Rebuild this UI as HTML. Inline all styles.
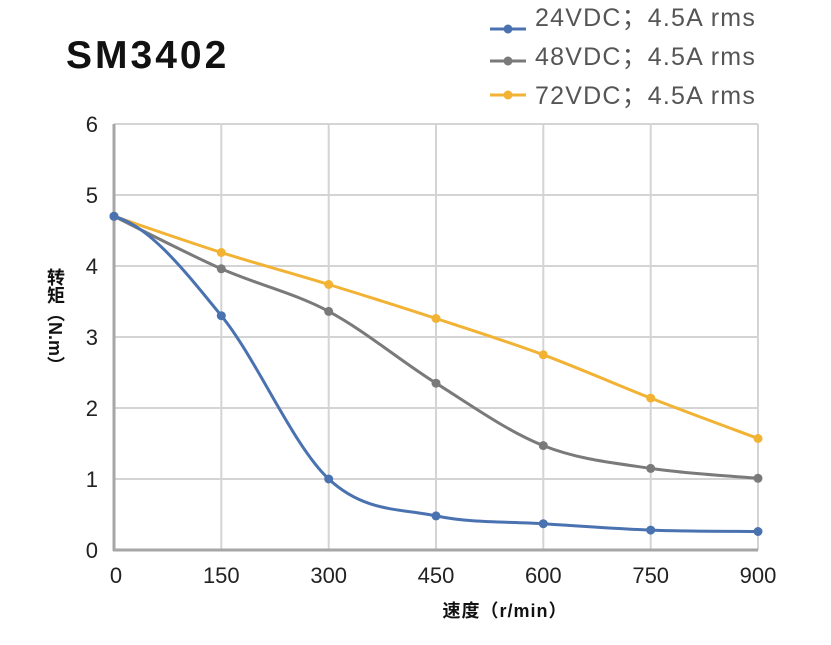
<!DOCTYPE html>
<html><head><meta charset="utf-8"><style>
body{margin:0;background:#fff;width:831px;height:640px;overflow:hidden;font-family:"Liberation Sans","Noto Sans CJK SC",sans-serif}
</style></head><body>
<svg id="s" width="831" height="640" xmlns="http://www.w3.org/2000/svg" font-family="Liberation Sans, Noto Sans CJK SC, sans-serif">
<g stroke="#d4d4d4" stroke-width="2">
<line x1="114" y1="124" x2="758" y2="124"/><line x1="114" y1="195" x2="758" y2="195"/>
<line x1="114" y1="266" x2="758" y2="266"/><line x1="114" y1="337" x2="758" y2="337"/>
<line x1="114" y1="408" x2="758" y2="408"/><line x1="114" y1="479" x2="758" y2="479"/>
<line x1="221.3" y1="124" x2="221.3" y2="550"/><line x1="328.7" y1="124" x2="328.7" y2="550"/>
<line x1="436" y1="124" x2="436" y2="550"/><line x1="543.3" y1="124" x2="543.3" y2="550"/>
<line x1="650.7" y1="124" x2="650.7" y2="550"/><line x1="758" y1="124" x2="758" y2="550"/>
</g>
<line x1="114" y1="124" x2="114" y2="551" stroke="#a6a6a6" stroke-width="3"/>
<line x1="113" y1="550" x2="758" y2="550" stroke="#a6a6a6" stroke-width="3"/>
<g font-size="22" fill="#222" text-anchor="end">
<text x="98" y="132">6</text><text x="98" y="203">5</text><text x="98" y="274">4</text>
<text x="98" y="345">3</text><text x="98" y="416">2</text><text x="98" y="487">1</text><text x="98" y="558">0</text>
</g>
<g font-size="22" fill="#222" text-anchor="middle">
<text x="116" y="583">0</text><text x="221.3" y="583">150</text><text x="328.7" y="583">300</text>
<text x="436" y="583">450</text><text x="543.3" y="583">600</text><text x="650.7" y="583">750</text><text x="758" y="583">900</text>
</g>
<text x="505" y="617" font-size="18" font-weight="bold" text-anchor="middle" fill="#111" letter-spacing="1">速度（r/min）</text>
<text x="66" y="68" font-size="39" font-weight="bold" fill="#111" letter-spacing="3">SM3402</text>
<g id="lines"></g>
<g font-size="25" fill="#555" letter-spacing="1.2">
<line x1="490" y1="29" x2="526" y2="29" stroke="#4a72b0" stroke-width="3"/><circle cx="508" cy="29" r="4.5" fill="#4a72b0"/>
<text x="535" y="26">24VDC；4.5A rms</text>
<line x1="490" y1="61" x2="526" y2="61" stroke="#7a7a7a" stroke-width="3"/><circle cx="508" cy="61" r="4.5" fill="#7a7a7a"/>
<text x="535" y="65">48VDC；4.5A rms</text>
<line x1="490" y1="95" x2="526" y2="95" stroke="#f2b233" stroke-width="3"/><circle cx="508" cy="95" r="4.5" fill="#f2b233"/>
<text x="535" y="104">72VDC；4.5A rms</text>
</g>
</svg>
<div style="position:absolute;left:44px;top:268px;writing-mode:vertical-rl;font-size:18px;font-weight:bold;color:#111;line-height:22px">转矩（N.m）</div>
<script>
var X=[114,221.3,328.7,436,543.3,650.7,758];
var S=[["#f2b233",[216.3,252.5,284.5,318.5,354.8,398.1,438.5]],["#7a7a7a",[216.3,268.8,311.4,383.2,445.6,468.4,478.3]],["#4a72b0",[216.3,315.7,479,515.9,523.7,530.1,531.5]]];
var g=document.getElementById("lines"),h="";
S.forEach(function(s,k){var c=s[0],Y=s[1],P=X.map(function(x,i){return[x,Y[i]]});
var d="M"+P[0];for(var i=0;i<P.length-1;i++){var p0=P[Math.max(i-1,0)],p1=P[i],p2=P[i+1],p3=P[Math.min(i+2,P.length-1)];
var c1x=p1[0]+(p2[0]-p0[0])/6,c1y=p1[1]+(p2[1]-p0[1])/6;
if(k==2&&i==0){c1x=150;c1y=226;}
d+=" C"+c1x+","+c1y+" "+(p2[0]-(p3[0]-p1[0])/6)+","+(p2[1]-(p3[1]-p1[1])/6)+" "+p2[0]+","+p2[1];}
h+='<path d="'+d+'" fill="none" stroke="'+c+'" stroke-width="3"/>';
P.forEach(function(p){h+='<circle cx="'+p[0]+'" cy="'+p[1]+'" r="4.5" fill="'+c+'"/>'});});
g.innerHTML=h;
</script>
</body></html>
